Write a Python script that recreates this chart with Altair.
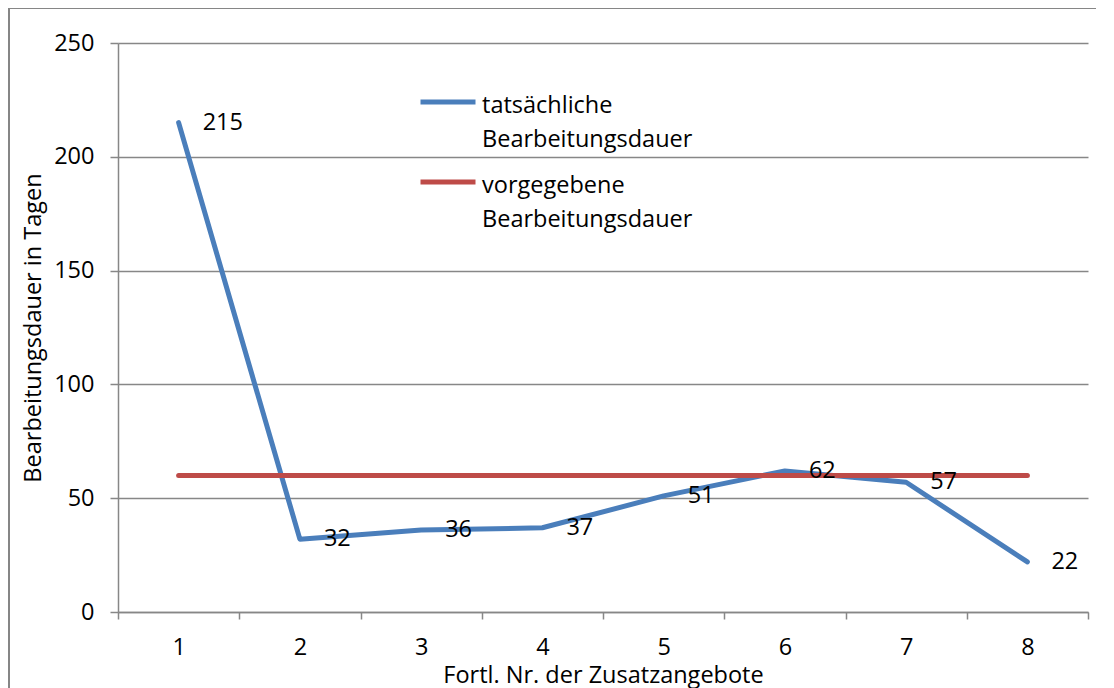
import altair as alt
import pandas as pd

categories = [1, 2, 3, 4, 5, 6, 7, 8]
actual = [215, 32, 36, 37, 51, 62, 57, 22]
target = [60, 60, 60, 60, 60, 60, 60, 60]
series_names = ["tatsächliche|Bearbeitungsdauer", "vorgegebene|Bearbeitungsdauer"]
series_colors = ["#4A7EBB", "#BE4B48"]
y_ticks = [0, 50, 100, 150, 200, 250]

rows = []
for c, v in zip(categories, actual):
    rows.append({"nr": c, "wert": v, "serie": series_names[0], "order": 0})
for c, v in zip(categories, target):
    rows.append({"nr": c, "wert": v, "serie": series_names[1], "order": 1})
df = pd.DataFrame(rows)
df_act = df[df["serie"] == series_names[0]]

FONT = "Open Sans"
FS = 23.5
GRID = "#878787"
LABEL_DY = -8
W, H = 970, 569

x_enc = alt.X(
    "nr:O",
    scale=alt.Scale(paddingInner=0, paddingOuter=0),
    axis=alt.Axis(
        title="Fortl. Nr. der Zusatzangebote",
        labelAngle=0,
        tickBand="extent",
        tickSize=7,
        labelPadding=16 - LABEL_DY,
        titleX=W / 2,
        titleY=63,
        titleBaseline="middle",
        grid=False,
    ),
)
y_enc = alt.Y(
    "wert:Q",
    scale=alt.Scale(domain=[0, 250], nice=False),
    axis=alt.Axis(
        title="Bearbeitungsdauer  in Tagen",
        values=y_ticks,
        tickSize=8,
        labelPadding=16,
        labelOffset=-LABEL_DY,
        titleX=-85,
        titleY=H / 2,
        titleBaseline="middle",
        grid=True,
    ),
)

lines = alt.Chart(df).mark_line(strokeWidth=5, strokeCap="round", strokeJoin="round").encode(
    x=x_enc,
    y=y_enc,
    color=alt.Color(
        "serie:N",
        scale=alt.Scale(domain=series_names, range=series_colors),
        legend=alt.Legend(
            title=None,
            orient="none",
            legendX=300,
            legendY=29,
            symbolType="stroke",
            symbolSize=3025,
            symbolStrokeWidth=5,
            labelOffset=4,
            labelFont=FONT,
            labelFontSize=FS,
            labelColor="#000000",
            labelLimit=400,
            labelExpr="split(datum.label, '|')",
            labelBaseline="top",
            rowPadding=0,
        ),
    ),
    order="order:Q",
)

labels = alt.Chart(df_act).mark_text(
    align="left", baseline="middle", dx=24, font=FONT, fontSize=FS, color="#000000"
).encode(
    x=alt.X("nr:O"),
    y=alt.Y("wert:Q"),
    text="wert:Q",
)

frame_left = alt.Chart(df_act).mark_rule(color="#868686", strokeWidth=2).encode(
    x=alt.value(-109), y=alt.value(-35), y2=alt.value(700)
)
frame_top = alt.Chart(df_act).mark_rule(color="#868686", strokeWidth=2).encode(
    x=alt.value(-109), x2=alt.value(1100), y=alt.value(-35)
)

chart = alt.layer(lines, labels, frame_left, frame_top).properties(
    width=W,
    height=H,
    autosize=alt.AutoSizeParams(type="none"),
    padding={"left": 110, "top": 35, "right": 8, "bottom": 76},
).configure(
    style={"guide-label": {"lineHeight": 34, "dy": LABEL_DY}}
).configure_view(stroke=None).configure_axis(
    domainColor=GRID,
    tickColor=GRID,
    gridColor=GRID,
    domainWidth=1.5,
    tickWidth=1.5,
    gridWidth=1.5,
    labelFont=FONT,
    labelFontSize=FS,
    labelColor="#000000",
    titleFont=FONT,
    titleFontSize=FS,
    titleFontWeight="normal",
    titleColor="#000000",
)

chart.save("out.html", embed_options={"renderer": "svg", "actions": False})
